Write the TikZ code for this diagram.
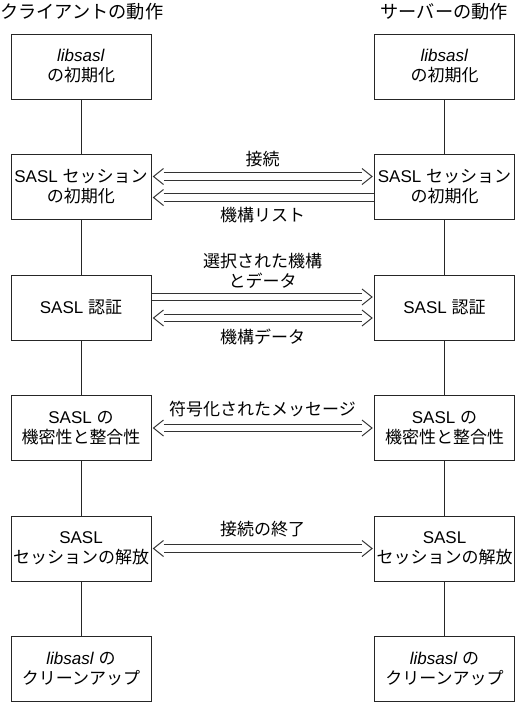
\documentclass[tikz,border=0pt]{standalone}
\usepackage{fontspec}
\setmainfont{Liberation Sans}
\newfontfamily\jpf{Noto Sans CJK JP}
\newcommand\jt[1]{{\jpf #1}}
\newcommand\chevL[1]{\draw[chev] ([shift={(10pt,8pt)}]#1) -- (#1) -- ([shift={(10pt,-8pt)}]#1);}
\newcommand\chevR[1]{\draw[chev] ([shift={(-10pt,8pt)}]#1) -- (#1) -- ([shift={(-10pt,-8pt)}]#1);}
\begin{document}
\begin{tikzpicture}[x=1pt,y=-1pt,
  box/.style={draw=black!85, line width=1pt, minimum width=140pt, minimum height=65pt, inner sep=0pt, align=center, font=\fontsize{17}{20}\selectfont},
  vline/.style={draw=black!85, line width=1pt},
  dbl/.style={draw=black!80, line width=1pt, double=white, double distance=6.2pt},
  chev/.style={draw=black!80, line width=1pt, line join=miter},
  lbl/.style={inner sep=0pt, align=center, font=\fontsize{17}{20}\selectfont\jpf},
  ttl/.style={inner sep=0pt, font=\fontsize{18.2}{20}\selectfont\jpf}]
\useasboundingbox (0,0) rectangle (516,702);
\fill[white] (0,0) rectangle (516,702);

% titles
\node[ttl, anchor=west] (tl) at (0,11.5) {クライアントの動作};
\node[ttl, anchor=east] (tr) at (508,11.5) {サーバーの動作};

% boxes
\node[box] (L1) at (81,66.5) {\textit{libsasl}\\\jt{の初期化}};
\node[box] (R1) at (444.5,66.5) {\textit{libsasl}\\\jt{の初期化}};
\node[box] (L2) at (81,187) {SASL \jt{セッション}\\\jt{の初期化}};
\node[box] (R2) at (444.5,187) {SASL \jt{セッション}\\\jt{の初期化}};
\node[box] (L3) at (81,307.5) {SASL \jt{認証}};
\node[box] (R3) at (444.5,307.5) {SASL \jt{認証}};
\node[box] (L4) at (81,428) {SASL \jt{の}\\\jt{機密性と整合性}};
\node[box] (R4) at (444.5,428) {SASL \jt{の}\\\jt{機密性と整合性}};
\node[box] (L5) at (81,548.5) {SASL\\\jt{セッションの解放}};
\node[box] (R5) at (444.5,548.5) {SASL\\\jt{セッションの解放}};
\node[box] (L6) at (81,669) {\textit{libsasl} \jt{の}\\\jt{クリーンアップ}};
\node[box] (R6) at (444.5,669) {\textit{libsasl} \jt{の}\\\jt{クリーンアップ}};

% vertical lines
\foreach \a/\b in {1/2,2/3,3/4,4/5,5/6}{
  \draw[vline] (L\a) -- (L\b);
  \draw[vline] (R\a) -- (R\b);
}

% row 2: connect (both), mechanism list (left)
\coordinate (a2l) at ([xshift=2pt,yshift=10.5pt]L2.east);
\coordinate (a2r) at ([xshift=-2pt,yshift=10.5pt]R2.west);
\draw[dbl] ([xshift=10pt]a2l) -- ([xshift=-10pt]a2r);
\chevL{a2l}\chevR{a2r}
\coordinate (b2l) at ([xshift=2pt,yshift=-10.5pt]L2.east);
\coordinate (b2r) at ([yshift=-10.5pt]R2.west);
\draw[dbl] ([xshift=10pt]b2l) -- (b2r);
\chevL{b2l}

% row 3: selected mechanism (right), mechanism data (both)
\coordinate (a3l) at ([yshift=10.5pt]L3.east);
\coordinate (a3r) at ([xshift=-2pt,yshift=10.5pt]R3.west);
\draw[dbl] (a3l) -- ([xshift=-10pt]a3r);
\chevR{a3r}
\coordinate (b3l) at ([xshift=2pt,yshift=-10.5pt]L3.east);
\coordinate (b3r) at ([xshift=-2pt,yshift=-10.5pt]R3.west);
\draw[dbl] ([xshift=10pt]b3l) -- ([xshift=-10pt]b3r);
\chevL{b3l}\chevR{b3r}

% row 4
\coordinate (a4l) at ([xshift=2pt]L4.east);
\coordinate (a4r) at ([xshift=-2pt]R4.west);
\draw[dbl] ([xshift=10pt]a4l) -- ([xshift=-10pt]a4r);
\chevL{a4l}\chevR{a4r}

% row 5
\coordinate (a5l) at ([xshift=2pt]L5.east);
\coordinate (a5r) at ([xshift=-2pt]R5.west);
\draw[dbl] ([xshift=10pt]a5l) -- ([xshift=-10pt]a5r);
\chevL{a5l}\chevR{a5r}

% labels
\node[lbl] (m1) at (262.5,159.5) {接続};
\node[lbl] (m2) at (262.5,215) {機構リスト};
\node[lbl] (m3) at (262.5,270.5) {選択された機構\\とデータ};
\node[lbl] (m4) at (262.5,337) {機構データ};
\node[lbl] (m5) at (262.5,409.5) {符号化されたメッセージ};
\node[lbl] (m6) at (262.5,529) {接続の終了};
\end{tikzpicture}
\end{document}
